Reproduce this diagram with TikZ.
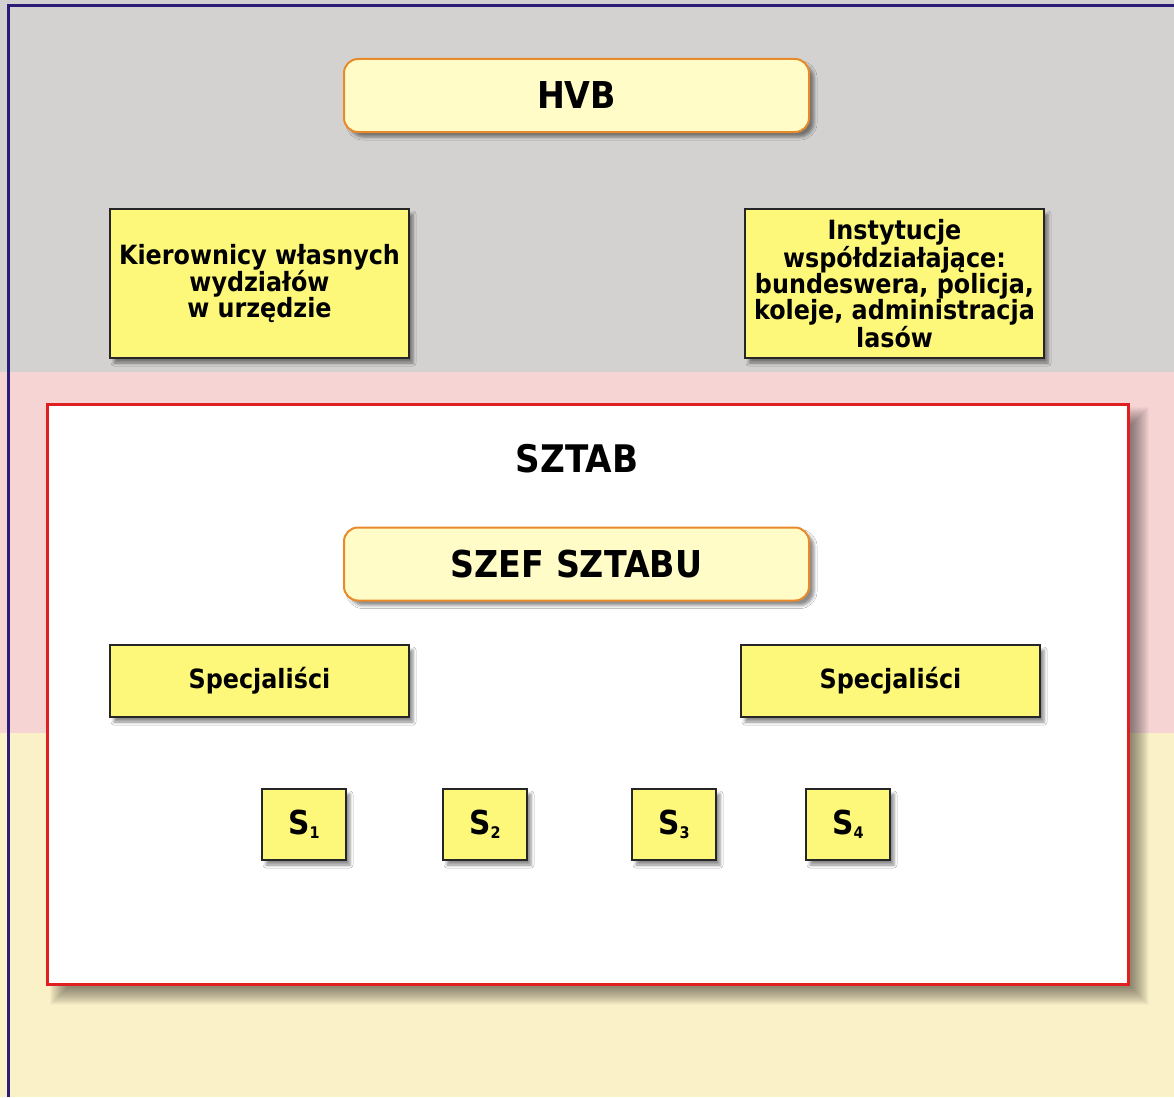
\documentclass[tikz,border=0pt]{standalone}
\usepackage{fontspec}
\setmainfont{DejaVu Sans Condensed}[BoldFont={DejaVu Sans Condensed Bold}]
\usetikzlibrary{shadows.blur}
\definecolor{bandgray}{HTML}{D3D2D1}
\definecolor{bandpink}{HTML}{F7D4D4}
\definecolor{bandcream}{HTML}{FBF1C9}
\definecolor{frameblue}{HTML}{2B1C78}
\definecolor{paleyellow}{HTML}{FFFCC8}
\definecolor{edgeorange}{HTML}{E8892A}
\definecolor{boxyellow}{HTML}{FEF87A}
\definecolor{stabred}{HTML}{E02020}
\tikzset{
  x=1pt, y=-1pt,
  headbox/.style={draw=edgeorange, line width=2pt, fill=paleyellow, rounded corners=14pt,
    minimum width=465pt, minimum height=73pt, inner sep=0pt,
    font=\fontsize{37}{40}\selectfont\bfseries,
    blur shadow={shadow xshift=5pt, shadow yshift=-5pt, shadow blur radius=3pt, shadow opacity=45}},
  unitbox/.style={draw=black!85, line width=2pt, fill=boxyellow, inner sep=0pt, align=center,
    font=\fontsize{26.5}{26}\selectfont\bfseries,
    blur shadow={shadow xshift=4pt, shadow yshift=-5pt, shadow blur radius=3pt, shadow opacity=45}},
  sbox/.style={unitbox, minimum width=84pt, minimum height=71pt, font=\fontsize{33}{34}\selectfont\bfseries},
}
\newcommand{\sidx}[1]{S\raisebox{-4pt}{\fontsize{16}{16}\selectfont #1}}
\begin{document}
\begin{tikzpicture}
\useasboundingbox (0,0) rectangle (1174,1097);
% background bands
\fill[bandgray] (0,0) rectangle (1174,372);
\fill[bandpink] (0,372) rectangle (1174,733);
\fill[bandcream] (0,733) rectangle (1174,1097);
% outer frame (left and top edges)
\coordinate (fbl) at (8,1097);
\coordinate (ftl) at (8,6);
\coordinate (ftr) at (1174,6);
\draw[frameblue, line width=3pt] (fbl) -- (ftl) -- (ftr);
% soft shadow of the staff frame, built from stacked translucent layers
\foreach \i in {0,...,17}{
  \fill[black, opacity=0.028] (50+\i,407+\i) rectangle (1149-\i,1005-\i);
}
% staff frame
\node[draw=stabred, line width=3pt, fill=white, minimum width=1081pt, minimum height=580pt,
  inner sep=0pt] (stab) at (587.5,694) {};
\node[font=\fontsize{38}{40}\selectfont\bfseries] (stabtitle) at (577,459) {SZTAB};
% top level
\node[headbox] (hvb) at (576.5,95.5) {HVB};
\node[unitbox, minimum width=299pt, minimum height=149pt] (kier) at (259.5,283.5)
  {Kierownicy własnych\\wydziałów\\w urzędzie};
\node[unitbox, minimum width=299pt, minimum height=149pt] (inst) at (894.5,283.5)
  {Instytucje\\współdziałające:\\bundeswera, policja,\\koleje, administracja\\lasów};
% staff
\node[headbox] (szef) at (576.5,564) {SZEF SZTABU};
\node[unitbox, minimum width=299pt, minimum height=72pt] (specl) at (259.5,681) {Specjaliści};
\node[unitbox, minimum width=299pt, minimum height=72pt] (specr) at (890.5,681) {Specjaliści};
\node[sbox] (s1) at (304,824.5) {\sidx{1}};
\node[sbox] (s2) at (485,824.5) {\sidx{2}};
\node[sbox] (s3) at (674,824.5) {\sidx{3}};
\node[sbox] (s4) at (848,824.5) {\sidx{4}};
\end{tikzpicture}
\end{document}
